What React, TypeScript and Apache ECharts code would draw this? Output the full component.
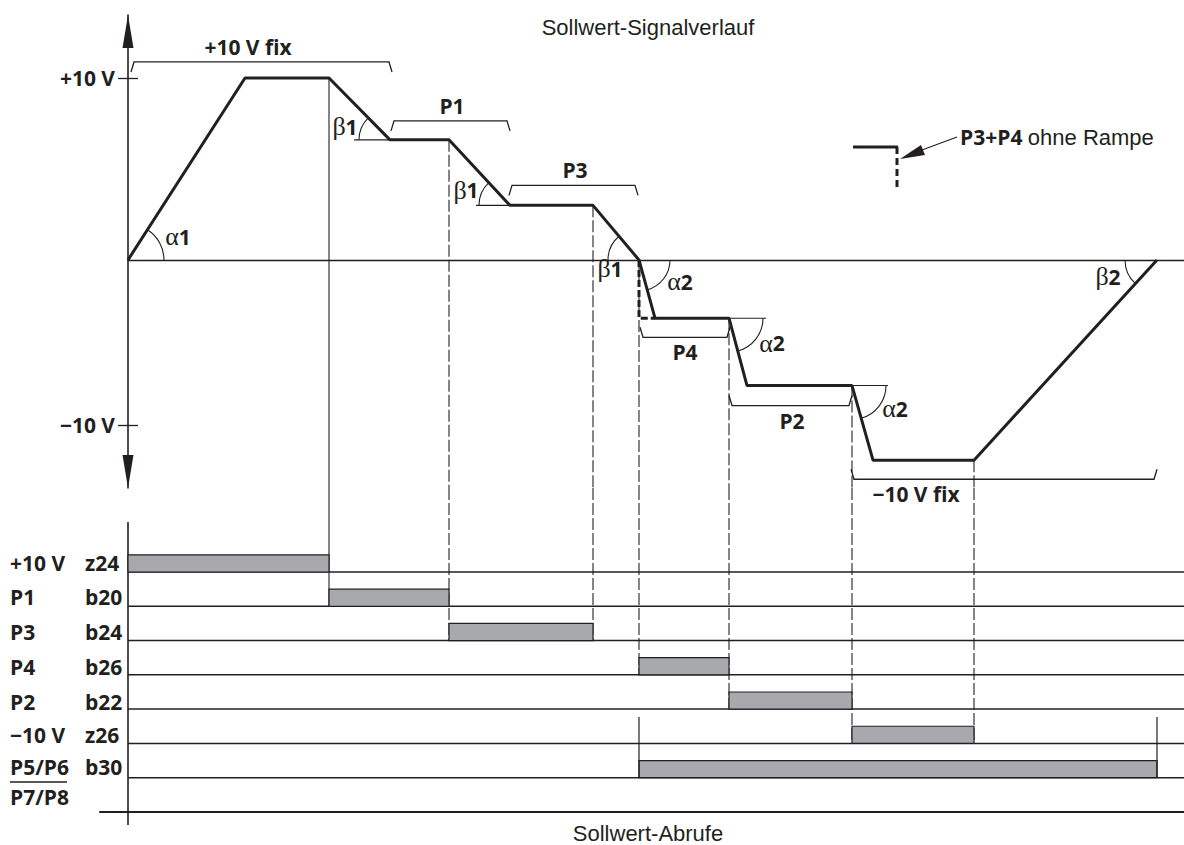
import React, { useEffect, useRef } from 'react';
import * as echarts from 'echarts';

// ---------------- data (schematic time units / volts) ----------------
const signalTimes = [0, 117, 201, 262, 321, 382, 465, 511, 527, 601, 619, 724, 745, 846, 1029];
const signalLevels = [0, 10, 10, 6.6, 6.6, 3, 3, 0, -3.2, -3.2, -6.9, -6.9, -11, -11, 0];

// step without ramp (P3+P4 ohne Rampe)
const stepTimes = [511, 511, 527];
const stepLevels = [0, -3.2, -3.2];

const voltTickValues = [10, -9.07];
const voltTickLabels = ['+10 V', '\u221210 V'];

const bracketLabels = ['+10 V fix', 'P1', 'P3', 'P4', 'P2', '\u221210 V fix'];
const bracketStarts = [5, 265, 383, 514, 603, 725];
const bracketEnds = [262, 380, 508, 600, 722, 1027];
const bracketLevels = [10.88, 7.64, 4.1, -4.25, -8.0, -12.05];
const bracketLabelTimes = [120, 324, 447, 557, 664, 788];
const bracketHooksDown = [true, true, true, false, false, false];

const angleGreek = ['\u03b1', '\u03b2', '\u03b2', '\u03b2', '\u03b1', '\u03b1', '\u03b1', '\u03b2'];
const angleNumbers = ['1', '1', '1', '1', '2', '2', '2', '2'];
const angleVertex = [0, 3, 5, 7, 7, 9, 11, 14];
const angleOther = [1, 2, 4, 6, 8, 10, 12, 13];
const angleRefRight = [true, false, false, false, true, true, true, false];

const rowNames = ['+10 V', 'P1', 'P3', 'P4', 'P2', '\u221210 V', 'P5/P6', 'P7/P8'];
const rowTerminals = ['z24', 'b20', 'b24', 'b26', 'b22', 'z26', 'b30', ''];
const rowLevels = [7, 6, 5, 4, 3, 2, 1, 0];

const callStarts = [0, 201, 321, 511, 601, 724, 511];
const callEnds = [201, 321, 465, 601, 724, 846, 1029];
const callRows = [7, 6, 5, 4, 3, 2, 1];

const dropTimes = [201, 321, 465, 511, 601, 724, 846];
const dropTops = [10, 6.6, 3, 0, -3.2, -6.9, -11];
const dropRows = [6, 5, 5, 4, 3, 2, 2];
const dropDashed = [false, true, true, true, true, true, true];

const windowTimes = [511, 1029];
const windowFrom = [1, 1];
const windowTo = [2.77, 2.77];

// ---------------- styles ----------------
const INK = '#231f20';
const GREY = '#a7a9ac';
const BOLD = '"Open Sans", "Noto Sans", sans-serif';
const REG = '"Liberation Sans", Arial, sans-serif';
const SERIF = '"Liberation Serif", "DejaVu Serif", serif';

const X_MIN = 0;
const X_MAX = 1056;
const V_MIN = -12.53;
const V_MAX = 13.46;
const R_MIN = -0.38;
const R_MAX = 9.45;
const PANEL_TOP = 8.46;
const CALL_H = 0.5;
const rowLabelLift = [0.26, 0.26, 0.25, 0.23, 0.21, 0.25, 0.31, 0.44];
const rowLabelValues = rowLevels.map((r, i) => r + rowLabelLift[i]);
const angleRadius = [36, 31, 31, 31, 31, 34, 34, 32];
const angleRefLen = [0, 36, 34, 0, 0, 37, 36, 0];
const angleLabelOffset = [
  [50, -23], [-45, -13], [-44, -15], [-29, 9], [41, 22], [43, 25], [43, 23], [-49, 17],
];
const DASH = [12, 3];

function txt(x: number, y: number, text: string, font: string, align = 'center', extra: any = {}) {
  return {
    type: 'text',
    x,
    y,
    style: {
      text,
      font,
      fill: INK,
      textAlign: align,
      textVerticalAlign: 'middle',
      align,
      verticalAlign: 'middle',
      ...extra,
    },
  };
}

function buildOption(): any {
  const boldFont = `bold 21px ${BOLD}`;
  return {
    animation: false,
    backgroundColor: '#ffffff',
    grid: [
      { left: 128, top: 15, width: 1056, height: 473, outerBoundsMode: 'none', containLabel: false },
      { left: 100, top: 488, width: 1084, height: 337, outerBoundsMode: 'none', containLabel: false },
    ],
    xAxis: [
      {
        gridIndex: 0, type: 'value', min: X_MIN, max: X_MAX,
        axisLine: { show: true, onZero: true, lineStyle: { color: INK, width: 1.3 } },
        axisTick: { show: false }, axisLabel: { show: false }, splitLine: { show: false },
      },
      {
        gridIndex: 1, type: 'value', min: X_MIN - 28, max: X_MAX,
        axisLine: { show: true, onZero: true, lineStyle: { color: INK, width: 2 } },
        axisTick: { show: false }, axisLabel: { show: false }, splitLine: { show: false },
      },
    ],
    yAxis: [
      {
        gridIndex: 0, type: 'value', min: V_MIN, max: V_MAX, position: 'left',
        axisLine: {
          show: true, onZero: true,
          symbol: ['triangle', 'triangle'], symbolSize: [11, 33], symbolOffset: [16.5, -16.5],
          lineStyle: { color: INK, width: 1.6 },
        },
        axisTick: { show: true, length: 10, customValues: voltTickValues, lineStyle: { color: INK, width: 1.3 } },
        axisLabel: {
          show: true, customValues: voltTickValues, margin: 13,
          formatter: (v: number) => {
            const i = voltTickValues.findIndex((x) => Math.abs(x - v) < 1e-6);
            return i < 0 ? '' : voltTickLabels[i];
          },
          color: INK, fontFamily: BOLD, fontWeight: 'bold', fontSize: 21,
        },
        splitLine: { show: false },
      },
      {
        gridIndex: 0, type: 'value', min: V_MIN, max: V_MAX, position: 'left',
        axisLine: { show: false, onZero: true },
        axisTick: { show: true, inside: true, length: 10, customValues: voltTickValues, lineStyle: { color: INK, width: 1.3 } },
        axisLabel: { show: false },
        splitLine: { show: false },
      },
      {
        gridIndex: 1, type: 'value', min: R_MIN, max: R_MAX, position: 'left',
        axisLine: { show: false, onZero: false },
        axisTick: { show: false },
        axisLabel: {
          show: true, customValues: rowLabelValues, align: 'left', margin: 90,
          formatter: (v: number) => {
            const i = rowLabelValues.findIndex((x) => Math.abs(x - v) < 1e-6);
            return i < 0 ? '' : `{n|${rowNames[i]}}{t|${rowTerminals[i]}}`;
          },
          rich: {
            n: { width: 75, color: INK, fontFamily: BOLD, fontWeight: 'bold', fontSize: 21 },
            t: { color: INK, fontFamily: BOLD, fontWeight: 'bold', fontSize: 21 },
          },
        },
        splitLine: { show: false },
      },
    ],
    series: [
      // vertical drop lines, upper part
      {
        type: 'custom', xAxisIndex: 0, yAxisIndex: 0, clip: false, silent: true, z: 2,
        data: dropTimes.map((t, i) => [t, dropTops[i]]),
        renderItem: (params: any, api: any) => {
          const p = api.coord([api.value(0), api.value(1)]);
          const cs = params.coordSys;
          const dashed = dropDashed[params.dataIndex];
          return {
            type: 'line',
            shape: { x1: p[0], y1: p[1], x2: p[0], y2: cs.y + cs.height },
            style: dashed ? { stroke: INK, lineWidth: 1.1, lineDash: DASH } : { stroke: INK, lineWidth: 1.1 },
          };
        },
      },
      // vertical drop lines, lower part
      {
        type: 'custom', xAxisIndex: 1, yAxisIndex: 2, clip: false, silent: true, z: 2,
        data: dropTimes.map((t, i) => [t, dropRows[i]]),
        renderItem: (params: any, api: any) => {
          const p = api.coord([api.value(0), api.value(1)]);
          const cs = params.coordSys;
          const dashed = dropDashed[params.dataIndex];
          return {
            type: 'line',
            shape: { x1: p[0], y1: cs.y, x2: p[0], y2: p[1] },
            style: dashed ? { stroke: INK, lineWidth: 1.1, lineDash: DASH } : { stroke: INK, lineWidth: 1.1 },
          };
        },
      },
      // row separators
      {
        type: 'custom', xAxisIndex: 1, yAxisIndex: 2, clip: false, silent: true, z: 3,
        data: rowLevels.filter((r) => r > 0).map((r) => [X_MIN, r]),
        renderItem: (params: any, api: any) => {
          const p = api.coord([api.value(0), api.value(1)]);
          const cs = params.coordSys;
          return {
            type: 'line',
            shape: { x1: p[0], y1: p[1], x2: cs.x + cs.width, y2: p[1] },
            style: { stroke: INK, lineWidth: 1.5 },
          };
        },
      },
      // panel left line
      {
        type: 'custom', xAxisIndex: 1, yAxisIndex: 2, clip: false, silent: true, z: 3,
        data: [[X_MIN, PANEL_TOP, R_MIN]],
        renderItem: (params: any, api: any) => {
          const p = api.coord([api.value(0), api.value(1)]);
          const q = api.coord([api.value(0), api.value(2)]);
          return {
            type: 'line',
            shape: { x1: p[0], y1: p[1], x2: q[0], y2: q[1] },
            style: { stroke: INK, lineWidth: 1.6 },
          };
        },
      },
      // setpoint call bars
      {
        type: 'custom', xAxisIndex: 1, yAxisIndex: 2, clip: false, silent: true, z: 4,
        data: callStarts.map((s, i) => [s, callEnds[i], callRows[i]]),
        renderItem: (params: any, api: any) => {
          const a = api.coord([api.value(0), api.value(2) + CALL_H]);
          const b = api.coord([api.value(1), api.value(2)]);
          return {
            type: 'rect',
            shape: { x: a[0], y: a[1], width: b[0] - a[0], height: b[1] - a[1] },
            style: { fill: GREY, stroke: INK, lineWidth: 1.2 },
          };
        },
      },
      // b30 window marks
      {
        type: 'custom', xAxisIndex: 1, yAxisIndex: 2, clip: false, silent: true, z: 4,
        data: windowTimes.map((t, i) => [t, windowFrom[i], windowTo[i]]),
        renderItem: (params: any, api: any) => {
          const a = api.coord([api.value(0), api.value(1)]);
          const b = api.coord([api.value(0), api.value(2)]);
          return {
            type: 'line',
            shape: { x1: a[0], y1: a[1], x2: b[0], y2: b[1] },
            style: { stroke: INK, lineWidth: 1.2 },
          };
        },
      },
      // brackets
      {
        type: 'custom', xAxisIndex: 0, yAxisIndex: 0, clip: false, silent: true, z: 4,
        data: bracketStarts.map((s, i) => [s, bracketEnds[i], bracketLevels[i], bracketLabelTimes[i]]),
        renderItem: (params: any, api: any) => {
          const i = params.dataIndex;
          const a = api.coord([api.value(0), api.value(2)]);
          const b = api.coord([api.value(1), api.value(2)]);
          const lx = api.coord([api.value(3), api.value(2)])[0];
          const dir = bracketHooksDown[i] ? 1 : -1;
          const y = a[1];
          return {
            type: 'group',
            children: [
              {
                type: 'polyline',
                shape: { points: [[a[0] - 2, y + dir * 10], [a[0] + 1, y], [b[0] - 1, y], [b[0] + 2, y + dir * 10]] },
                style: { stroke: INK, lineWidth: 1.3, fill: 'none' },
              },
              txt(lx, y - dir * 15, bracketLabels[i], boldFont),
            ],
          };
        },
      },
      // angle marks
      {
        type: 'custom', xAxisIndex: 0, yAxisIndex: 0, clip: false, silent: true, z: 4,
        data: angleVertex.map((v, i) => [signalTimes[v], signalLevels[v], signalTimes[angleOther[i]], signalLevels[angleOther[i]]]),
        renderItem: (params: any, api: any) => {
          const i = params.dataIndex;
          const p = api.coord([api.value(0), api.value(1)]);
          const q = api.coord([api.value(2), api.value(3)]);
          const right = angleRefRight[i];
          const ref = right ? 0 : Math.PI;
          const ramp = Math.atan2(q[1] - p[1], q[0] - p[0]);
          let d = ramp - ref;
          while (d > Math.PI) d -= 2 * Math.PI;
          while (d <= -Math.PI) d += 2 * Math.PI;
          const start = d > 0 ? ref : ref + d;
          const end = d > 0 ? ref + d : ref;
          const children: any[] = [
            {
              type: 'arc',
              shape: { cx: p[0], cy: p[1], r: angleRadius[i], startAngle: start, endAngle: end, clockwise: true },
              style: { stroke: INK, lineWidth: 1.1, fill: 'none' },
            },
          ];
          if (angleRefLen[i] > 0) {
            children.push({
              type: 'line',
              shape: { x1: p[0], y1: p[1], x2: p[0] + (right ? 1 : -1) * angleRefLen[i], y2: p[1] },
              style: { stroke: INK, lineWidth: 1.1 },
            });
          }
          const off = angleLabelOffset[i];
          children.push(
            txt(p[0] + off[0], p[1] + off[1], `{g|${angleGreek[i]}}{n|${angleNumbers[i]}}`, boldFont, 'center', {
              rich: {
                g: { font: `26px ${SERIF}`, fill: INK },
                n: { font: boldFont, fill: INK },
              },
            }),
          );
          return { type: 'group', children };
        },
      },
      // setpoint signal
      {
        type: 'line', xAxisIndex: 0, yAxisIndex: 0, silent: true, z: 6,
        data: signalTimes.map((t, i) => [t, signalLevels[i]]),
        symbol: 'none', showSymbol: false,
        lineStyle: { color: INK, width: 3 },
      },
      // step without ramp
      {
        type: 'line', xAxisIndex: 0, yAxisIndex: 0, silent: true, z: 6,
        data: stepTimes.map((t, i) => [t, stepLevels[i]]),
        symbol: 'none', showSymbol: false,
        lineStyle: { color: INK, width: 3, type: [7, 3] },
      },
    ],
    graphic: [
      txt(648, 27, 'Sollwert-Signalverlauf', `22px ${REG}`),
      txt(648, 833, 'Sollwert-Abrufe', `22px ${REG}`),
      { type: 'line', shape: { x1: 853, y1: 147, x2: 898, y2: 147 }, style: { stroke: INK, lineWidth: 3 } },
      { type: 'line', shape: { x1: 897, y1: 147, x2: 897, y2: 190 }, style: { stroke: INK, lineWidth: 3, lineDash: [7, 4] } },
      { type: 'line', shape: { x1: 957, y1: 137, x2: 922, y2: 150 }, style: { stroke: INK, lineWidth: 1.2 } },
      { type: 'polygon', shape: { points: [[900, 159], [925, 155], [921, 145]] }, style: { fill: INK } },
      txt(960, 137, '{b|P3+P4} {r|ohne Rampe}', boldFont, 'left', {
        rich: {
          b: { font: boldFont, fill: INK },
          r: { font: `22px ${REG}`, fill: INK },
        },
      }),
      { type: 'line', shape: { x1: 10, y1: 782, x2: 67, y2: 782 }, style: { stroke: INK, lineWidth: 1.5 } },
    ],
  };
}

export default function App() {
  const ref = useRef<HTMLDivElement>(null);
  useEffect(() => {
    if (!ref.current) return;
    const chart = echarts.init(ref.current, undefined, { renderer: 'svg' });
    chart.setOption(buildOption());
    return () => chart.dispose();
  }, []);
  return (
    <div
      ref={ref}
      style={{ position: 'absolute', left: 0, top: 0, width: 1184, height: 845, background: '#fff' }}
    />
  );
}
